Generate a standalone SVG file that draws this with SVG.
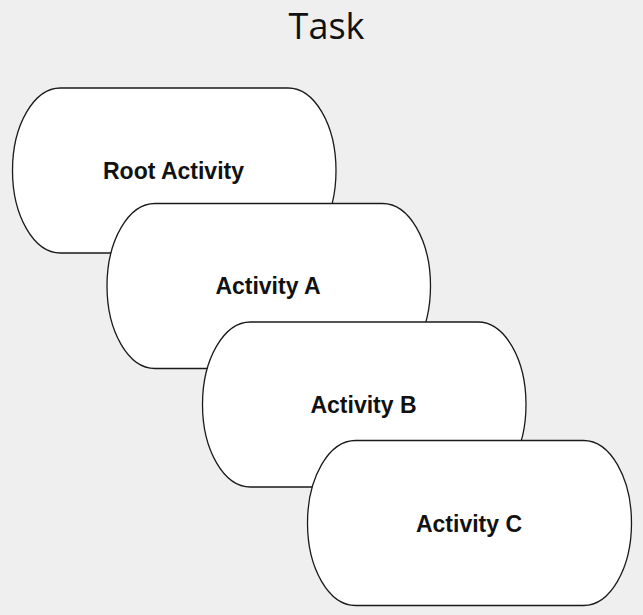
<svg xmlns="http://www.w3.org/2000/svg" width="643" height="615" viewBox="0 0 643 615">
<style>
.bg{fill:#efefef}
.node rect{fill:#ffffff;stroke:#1a1a1a;stroke-width:1.3}
.lbl{font-family:"Liberation Sans",Arial,sans-serif;font-weight:bold;font-size:23px;fill:#111;text-anchor:middle}
.title{font-family:"Open Sans","Noto Sans",sans-serif;font-size:36px;fill:#111;text-anchor:middle}
</style>
<rect class="bg" x="0" y="0" width="643" height="615"/>
<text class="title" x="326.5" y="39">Task</text>
<g id="connectors"/>
<g id="root" class="node">
<rect x="12.5" y="88" width="323.5" height="165" rx="48" ry="82.5"/>
<text class="lbl" x="173.5" y="179">Root Activity</text>
</g>
<g id="activityA" class="node">
<rect x="107" y="203.5" width="323.5" height="165" rx="48" ry="82.5"/>
<text class="lbl" x="268" y="294">Activity A</text>
</g>
<g id="activityB" class="node">
<rect x="202.5" y="322" width="323.5" height="165" rx="48" ry="82.5"/>
<text class="lbl" x="363.5" y="413">Activity B</text>
</g>
<g id="activityC" class="node">
<rect x="307.5" y="440.5" width="324" height="165" rx="48" ry="82.5"/>
<text class="lbl" x="469" y="531.5">Activity C</text>
</g>
</svg>
